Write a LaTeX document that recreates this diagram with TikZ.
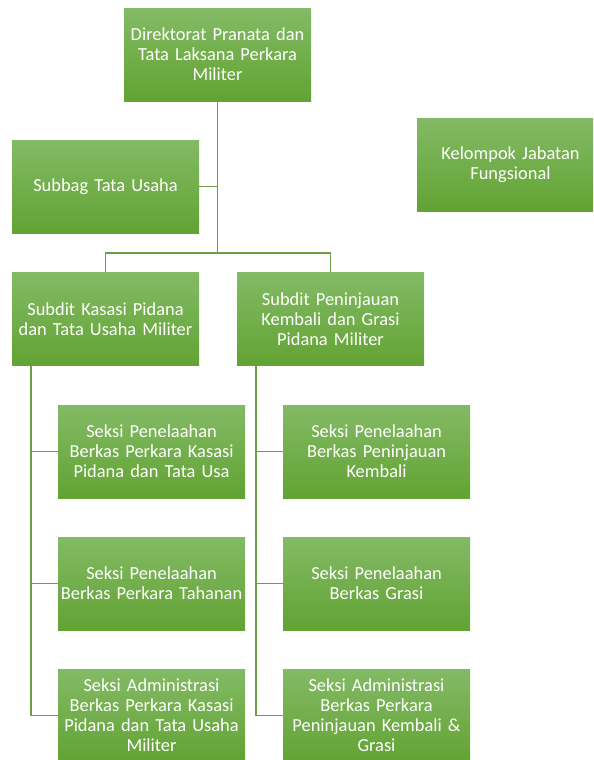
\documentclass[tikz,border=0pt]{standalone}
\usepackage{fontspec}
\setmainfont{Carlito}
\usepackage{tikz}
\definecolor{boxtop}{HTML}{83BA65}
\definecolor{boxbot}{HTML}{62A333}
\definecolor{linegreen}{HTML}{6C9F48}

\begin{document}
\begin{tikzpicture}
[
x=0.75pt, y=-0.75pt,
unit/.style={rectangle, minimum width=140.25pt, minimum height=69.75pt, inner sep=0pt,
  text width=140pt, align=center, top color=boxtop, bottom color=boxbot,
  text=white, font=\fontsize{13.8}{15}\selectfont},
link/.style={draw=linegreen, line width=1.2pt}
]
\clip (0,0) rectangle (593,760);

% top level
\node[unit] (dir) at (217.5,54.5) {Direktorat Pranata dan\\Tata Laksana Perkara\\Militer};
\node[unit] (subbag) at (105.5,186.5) {Subbag Tata Usaha};
\node[unit] (kjf) at (510.5,165) {Kelompok Jabatan\\Fungsional};

% subdit
\node[unit] (kasasi) at (105.5,319) {Subdit Kasasi Pidana\\dan Tata Usaha Militer};
\node[unit] (grasi) at (330.5,319) {Subdit Peninjauan\\Kembali dan Grasi\\Pidana Militer};

% seksi
\node[unit] (ka1) at (151.5,451.5) {Seksi Penelaahan\\Berkas Perkara Kasasi\\Pidana dan Tata Usa};
\node[unit] (ka2) at (151.5,583.5) {Seksi Penelaahan\\Berkas Perkara Tahanan};
\node[unit] (ka3) at (151.5,715.5) {Seksi Administrasi\\Berkas Perkara Kasasi\\Pidana dan Tata Usaha\\Militer};
\node[unit] (gr1) at (376.5,451.5) {Seksi Penelaahan\\Berkas Peninjauan\\Kembali};
\node[unit] (gr2) at (376.5,583.5) {Seksi Penelaahan\\Berkas Grasi};
\node[unit] (gr3) at (376.5,715.5) {Seksi Administrasi\\Berkas Perkara\\Peninjauan Kembali \&\\Grasi};

% connectors
\coordinate (bus) at (217.5,253);
\draw[link] (dir.south) -- (bus);
\draw[link] (subbag.east) -- (subbag.east -| dir.south);
\draw[link] (kasasi.north) |- (bus) -| (grasi.north);

\coordinate (kaline) at ([xshift=14.25pt]kasasi.south west);
\coordinate (grline) at ([xshift=14.25pt]grasi.south west);
\foreach \s in {ka1,ka2,ka3}
  \draw[link] (kaline) |- (\s.west);
\foreach \s in {gr1,gr2,gr3}
  \draw[link] (grline) |- (\s.west);
\end{tikzpicture}
\end{document}
